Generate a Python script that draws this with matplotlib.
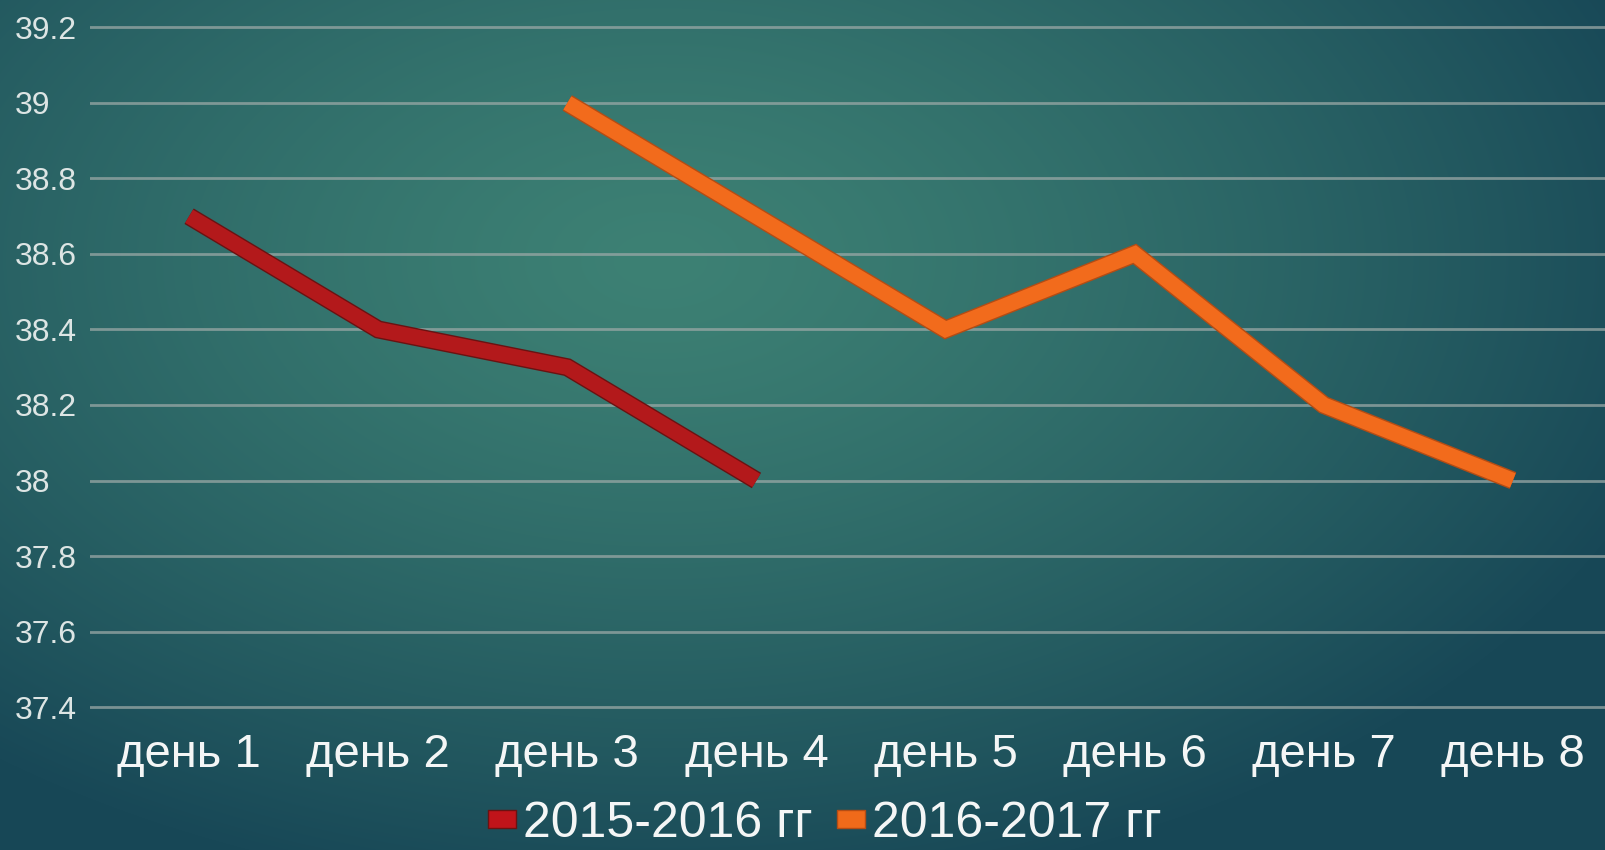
import matplotlib
matplotlib.use("Agg")
import matplotlib.pyplot as plt
import matplotlib.patheffects as pe
from matplotlib.lines import Line2D
from matplotlib.path import Path
import numpy as np

plt.rcParams['font.family'] = ['Liberation Sans', 'DejaVu Sans']

days = ["день 1", "день 2", "день 3", "день 4", "день 5", "день 6", "день 7", "день 8"]
temp_2015 = [38.7, 38.4, 38.3, 38.0, None, None, None, None]
temp_2016 = [None, None, 39.0, 38.7, 38.4, 38.6, 38.2, 38.0]
series_names = ["2015-2016 гг", "2016-2017 гг"]
y_ticks = [37.4, 37.6, 37.8, 38.0, 38.2, 38.4, 38.6, 38.8, 39.0, 39.2]
y_labels = ["37.4", "37.6", "37.8", "38", "38.2", "38.4", "38.6", "38.8", "39", "39.2"]

W, H = 1605, 850
fig = plt.figure(figsize=(W / 100, H / 100), dpi=100)

# radial teal background
bg = fig.add_axes([0, 0, 1, 1])
yy, xx = np.mgrid[0:H, 0:W]
t = np.sqrt(((xx - 660) / 1050.0) ** 2 + ((yy - 260) / 640.0) ** 2)
t = np.clip(t, 0, 1) ** 1.3
c_in = np.array([0x3d, 0x81, 0x74]) / 255.0
c_out = np.array([0x18, 0x48, 0x57]) / 255.0
img = c_in[None, None, :] * (1 - t[..., None]) + c_out[None, None, :] * t[..., None]
bg.imshow(img, aspect='auto', extent=[0, 1, 0, 1])
bg.axis('off')

ax = fig.add_axes([90 / W, 0.146, 1 - 90 / W, 0.8439])
ax.patch.set_alpha(0)
x = np.arange(1, len(days) + 1)

y1 = np.array([np.nan if v is None else v for v in temp_2015])
y2 = np.array([np.nan if v is None else v for v in temp_2016])

ax.plot(x, y1, color='#b3191b', lw=11, solid_capstyle='butt', solid_joinstyle='miter',
        path_effects=[pe.Stroke(linewidth=13, foreground='#6a1212'), pe.Normal()], zorder=3)
ax.plot(x, y2, color='#f26b1c', lw=11, solid_capstyle='butt', solid_joinstyle='miter',
        path_effects=[pe.Stroke(linewidth=13, foreground='#b44c14'), pe.Normal()], zorder=3)

ax.set_xlim(0.476, 8.487)
ax.set_ylim(37.35, 39.25)
ax.set_yticks(y_ticks)
ax.set_yticklabels(y_labels)
ax.set_xticks(x)
ax.set_xticklabels(days)
ax.grid(axis='y', color='#9aa8a6', lw=2, alpha=0.75)
ax.set_axisbelow(True)
for s in ax.spines.values():
    s.set_visible(False)
ax.tick_params(axis='both', length=0)
ax.tick_params(axis='y', labelsize=23, labelcolor='#dde5e4', pad=54)
ax.tick_params(axis='x', labelsize=34, labelcolor='#f4f6f6', pad=5)
for lab in ax.get_yticklabels():
    lab.set_horizontalalignment('left')

# wide flat legend marker
rect = Path([(-1, -0.65), (1, -0.65), (1, 0.65), (-1, 0.65), (-1, -0.65)], closed=True)
handles = [Line2D([], [], ls='none', marker=rect, markersize=19.5, markerfacecolor='#c0141a', markeredgecolor='#6a1212'),
           Line2D([], [], ls='none', marker=rect, markersize=19.5, markerfacecolor='#f06a1a', markeredgecolor='#b44c14')]
fig.legend(handles, series_names, loc='center', bbox_to_anchor=(0.514, 0.031), ncol=2,
           frameon=False, fontsize=36, labelcolor='#f4f6f6', handlelength=0.55,
           handletextpad=0.14, columnspacing=0.5, borderpad=0)

fig.savefig("out.png", dpi=100)
